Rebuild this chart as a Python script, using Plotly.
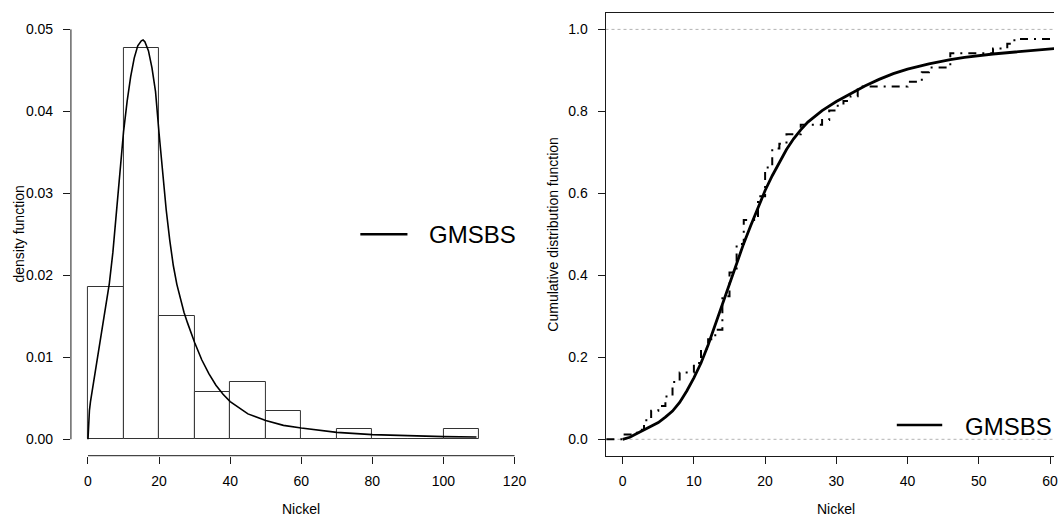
"""Nickel: histogram + fitted GMSBS density, and empirical vs fitted CDF."""
import numpy as np
import plotly.graph_objects as go

W, H = 1058, 516

# histogram of the Nickel data (density scale, bins of width 10)
BIN_LEFT = [0, 10, 20, 30, 40, 50, 60, 70, 80, 90, 100]
BIN_WIDTH = 10
DENSITY = [0.0186, 0.0477, 0.0151, 0.0058, 0.0070, 0.0035, 0.0, 0.0012, 0.0, 0.0, 0.0012]

# fitted GMSBS density
PDF_X = [0, 0.2, 0.4, 0.7, 1, 2, 3, 4, 5, 6, 7, 8, 9, 10, 11, 12, 13, 14, 15, 15.5,
         16, 17, 18, 19, 20, 21, 22, 23, 24, 25, 26, 27, 28, 30, 32, 34, 36, 38, 40,
         45, 50, 55, 60, 70, 80, 90, 100, 109.3]
PDF_Y = [0, 0.0022, 0.0035, 0.0046, 0.0054, 0.0078, 0.0106, 0.0136, 0.0162, 0.0190,
         0.0228, 0.0276, 0.0328, 0.0375, 0.0412, 0.0442, 0.0465, 0.0480, 0.0486,
         0.0487, 0.0485, 0.0474, 0.0453, 0.0424, 0.0373, 0.0323, 0.0280, 0.0243,
         0.0212, 0.0189, 0.0170, 0.0155, 0.0142, 0.0118, 0.0097, 0.0080, 0.0066,
         0.0055, 0.0046, 0.0031, 0.0023, 0.0017, 0.00137, 0.00085, 0.00057, 0.00042,
         0.00033, 0.00028]

# Nickel observations (n = 86), read from the empirical CDF steps
NICKEL = [0, 2, 3, 3, 4, 4, 5, 6, 6, 7, 7, 7, 8, 8, 10, 10, 11, 11, 11, 12, 12, 13, 13,
          14, 14, 14, 14, 14, 14, 14, 15, 15, 15, 15, 15, 16, 16, 16, 16, 16, 16,
          17, 17, 17, 17, 17, 19, 19, 19, 19, 19, 20, 20, 20, 20, 20, 20,
          21, 21, 21, 21, 22, 23, 23, 25, 25, 28, 29, 29, 30, 31, 32, 33, 33,
          40, 42, 42, 43, 46, 46, 46, 52, 54, 55, 75, 109]

# fitted GMSBS cdf
CDF_X = [0, 1, 2, 3, 4, 5, 6, 7, 8, 9, 10, 11, 12, 13, 14, 15, 16, 17, 18, 19, 20, 21,
         22, 23, 24, 25, 26, 27, 28, 30, 32, 34, 36, 38, 40, 43, 46, 48, 52, 57, 60.6,
         63]
CDF_Y = [0, 0.005, 0.014, 0.023, 0.031, 0.041, 0.054, 0.069, 0.090, 0.118, 0.150,
         0.186, 0.230, 0.280, 0.333, 0.383, 0.432, 0.478, 0.522, 0.566, 0.607, 0.643,
         0.676, 0.707, 0.733, 0.755, 0.774, 0.789, 0.802, 0.824, 0.844, 0.862, 0.878,
         0.892, 0.903, 0.916, 0.926, 0.932, 0.940, 0.948, 0.954, 0.957]

X1_TICKS = [0, 20, 40, 60, 80, 100, 120]
Y1_TICKS = [0.00, 0.01, 0.02, 0.03, 0.04, 0.05]
X2_TICKS = [0, 10, 20, 30, 40, 50, 60]
Y2_TICKS = [0.0, 0.2, 0.4, 0.6, 0.8, 1.0]

X1_RANGE = [-4.8, 124.8]
Y1_RANGE = [-0.002, 0.052]
X2_RANGE = [-2.41, 60.56]
X2_FULL_RIGHT = 62.4          # right end of the (cropped) cdf panel
Y2_RANGE = [-0.04, 1.04]

FONT = "Liberation Sans, Arial, Helvetica, sans-serif"
INK = "#1a1a1a"

# plot regions in pixels (left, right, top, bottom)
P1 = (71.2, 533.6, 13.0, 455.7)
P2 = (607.8, 1058.0, 13.0, 455.7)


def px_x(v):
    return v / W


def px_y(v):
    return 1 - v / H


fig = go.Figure()

# histogram bars
fig.add_trace(go.Bar(
    x=BIN_LEFT, y=DENSITY, width=BIN_WIDTH, offset=0,
    marker={"color": "white", "line": {"color": "#333333", "width": 1}},
    xaxis="x", yaxis="y", showlegend=False))

# fitted density
fig.add_trace(go.Scatter(
    x=PDF_X, y=PDF_Y, mode="lines", line={"color": "black", "width": 1.6},
    xaxis="x", yaxis="y", showlegend=False))

# empirical cdf (step function)
vals, counts = np.unique(NICKEL, return_counts=True)
ecdf = np.cumsum(counts) / len(NICKEL)
fig.add_trace(go.Scatter(
    x=[X2_RANGE[0] - 1] + vals.tolist(), y=[0.0] + ecdf.tolist(),
    mode="lines", line={"color": "black", "width": 2, "shape": "hv",
                        "dash": "2px,6px,8px,6px"},
    xaxis="x2", yaxis="y2", showlegend=False))

# fitted cdf
fig.add_trace(go.Scatter(
    x=CDF_X, y=CDF_Y, mode="lines", line={"color": "black", "width": 2.8},
    xaxis="x2", yaxis="y2", showlegend=False))

axis_common = dict(showgrid=False, zeroline=False, ticks="outside", ticklen=7,
                   tickwidth=1, tickcolor=INK, tickfont={"size": 14, "color": "black"},
                   tickmode="array", ticklabeloverflow="allow")

fig.update_layout(
    width=W, height=H, margin={"l": 0, "r": 0, "t": 0, "b": 0},
    paper_bgcolor="white", plot_bgcolor="white",
    font={"family": FONT, "size": 14, "color": "black"},
    bargap=0,
    xaxis=dict(axis_common, domain=[px_x(P1[0]), px_x(P1[1])], range=X1_RANGE,
               tickvals=X1_TICKS, showline=False, anchor="y", ticklabelstandoff=5),
    yaxis=dict(axis_common, domain=[px_y(P1[3]), px_y(P1[2])], range=Y1_RANGE,
               tickvals=Y1_TICKS, tickformat=".2f", showline=False, anchor="x",
               ticklabelstandoff=7),
    xaxis2=dict(axis_common, domain=[px_x(P2[0]), px_x(P2[1])], range=X2_RANGE,
                tickvals=X2_TICKS, showline=True, mirror=True, linecolor=INK,
                linewidth=1, anchor="y2", ticklabelstandoff=5),
    yaxis2=dict(axis_common, domain=[px_y(P2[3]), px_y(P2[2])], range=Y2_RANGE,
                tickvals=Y2_TICKS, tickformat=".1f", showline=True, mirror=False,
                linecolor=INK, linewidth=1, anchor="x2", ticklabelstandoff=7),
)

shapes = [
    # detached axis lines of the histogram panel
    dict(type="line", xref="x", yref="y domain", x0=X1_TICKS[0], x1=X1_TICKS[-1],
         y0=0, y1=0, line={"color": INK, "width": 1}),
    dict(type="line", xref="x domain", yref="y", x0=0, x1=0, y0=Y1_TICKS[0],
         y1=Y1_TICKS[-1], line={"color": INK, "width": 1}),
    # reference lines at 0 and 1 in the cdf panel
    dict(type="line", xref="x2 domain", yref="y2", x0=0, x1=1, y0=0, y1=0,
         line={"color": "#b3b3b3", "width": 1, "dash": "3px,3px"}, layer="below"),
    dict(type="line", xref="x2 domain", yref="y2", x0=0, x1=1, y0=1, y1=1,
         line={"color": "#b3b3b3", "width": 1, "dash": "3px,3px"}, layer="below"),
    # legend keys
    dict(type="line", xref="paper", yref="paper", x0=px_x(361.7), x1=px_x(409),
         y0=px_y(234.3), y1=px_y(234.3), line={"color": "black", "width": 2.5}),
    dict(type="line", xref="paper", yref="paper", x0=px_x(900.2), x1=px_x(945.8),
         y0=px_y(425), y1=px_y(425), line={"color": "black", "width": 2.5}),
]
fig.update_layout(shapes=shapes)

annotations = [
    dict(text="GMSBS", xref="paper", yref="paper", x=px_x(429), y=px_y(235),
         xanchor="left", yanchor="middle", showarrow=False, font={"size": 24}),
    dict(text="GMSBS", xref="paper", yref="paper", x=px_x(966.5), y=px_y(426),
         xanchor="left", yanchor="middle", showarrow=False, font={"size": 24}),
    # axis titles
    dict(text="Nickel", xref="x", yref="paper", x=sum(X1_RANGE) / 2, y=px_y(509),
         xanchor="center", yanchor="middle", showarrow=False, font={"size": 14}),
    dict(text="Nickel", xref="x2", yref="paper", x=(X2_RANGE[0] + X2_FULL_RIGHT) / 2,
         y=px_y(509), xanchor="center", yanchor="middle", showarrow=False,
         font={"size": 14}),
    dict(text="density function", xref="paper", yref="paper", x=px_x(19.3),
         y=px_y((P1[2] + P1[3]) / 2), textangle=-90, xanchor="center",
         yanchor="middle", showarrow=False, font={"size": 14}),
    dict(text="Cumulative distribution function", xref="paper", yref="paper",
         x=px_x(555.4), y=px_y((P2[2] + P2[3]) / 2), textangle=-90,
         xanchor="center", yanchor="middle", showarrow=False, font={"size": 14}),
]
fig.update_layout(annotations=annotations)

# the page's default body margin would push the 1058x516 figure out of the window
fig.write_html("out.html", config={"displayModeBar": False},
               post_script="document.body.style.margin='0';"
                           "document.body.style.overflow='hidden';")
